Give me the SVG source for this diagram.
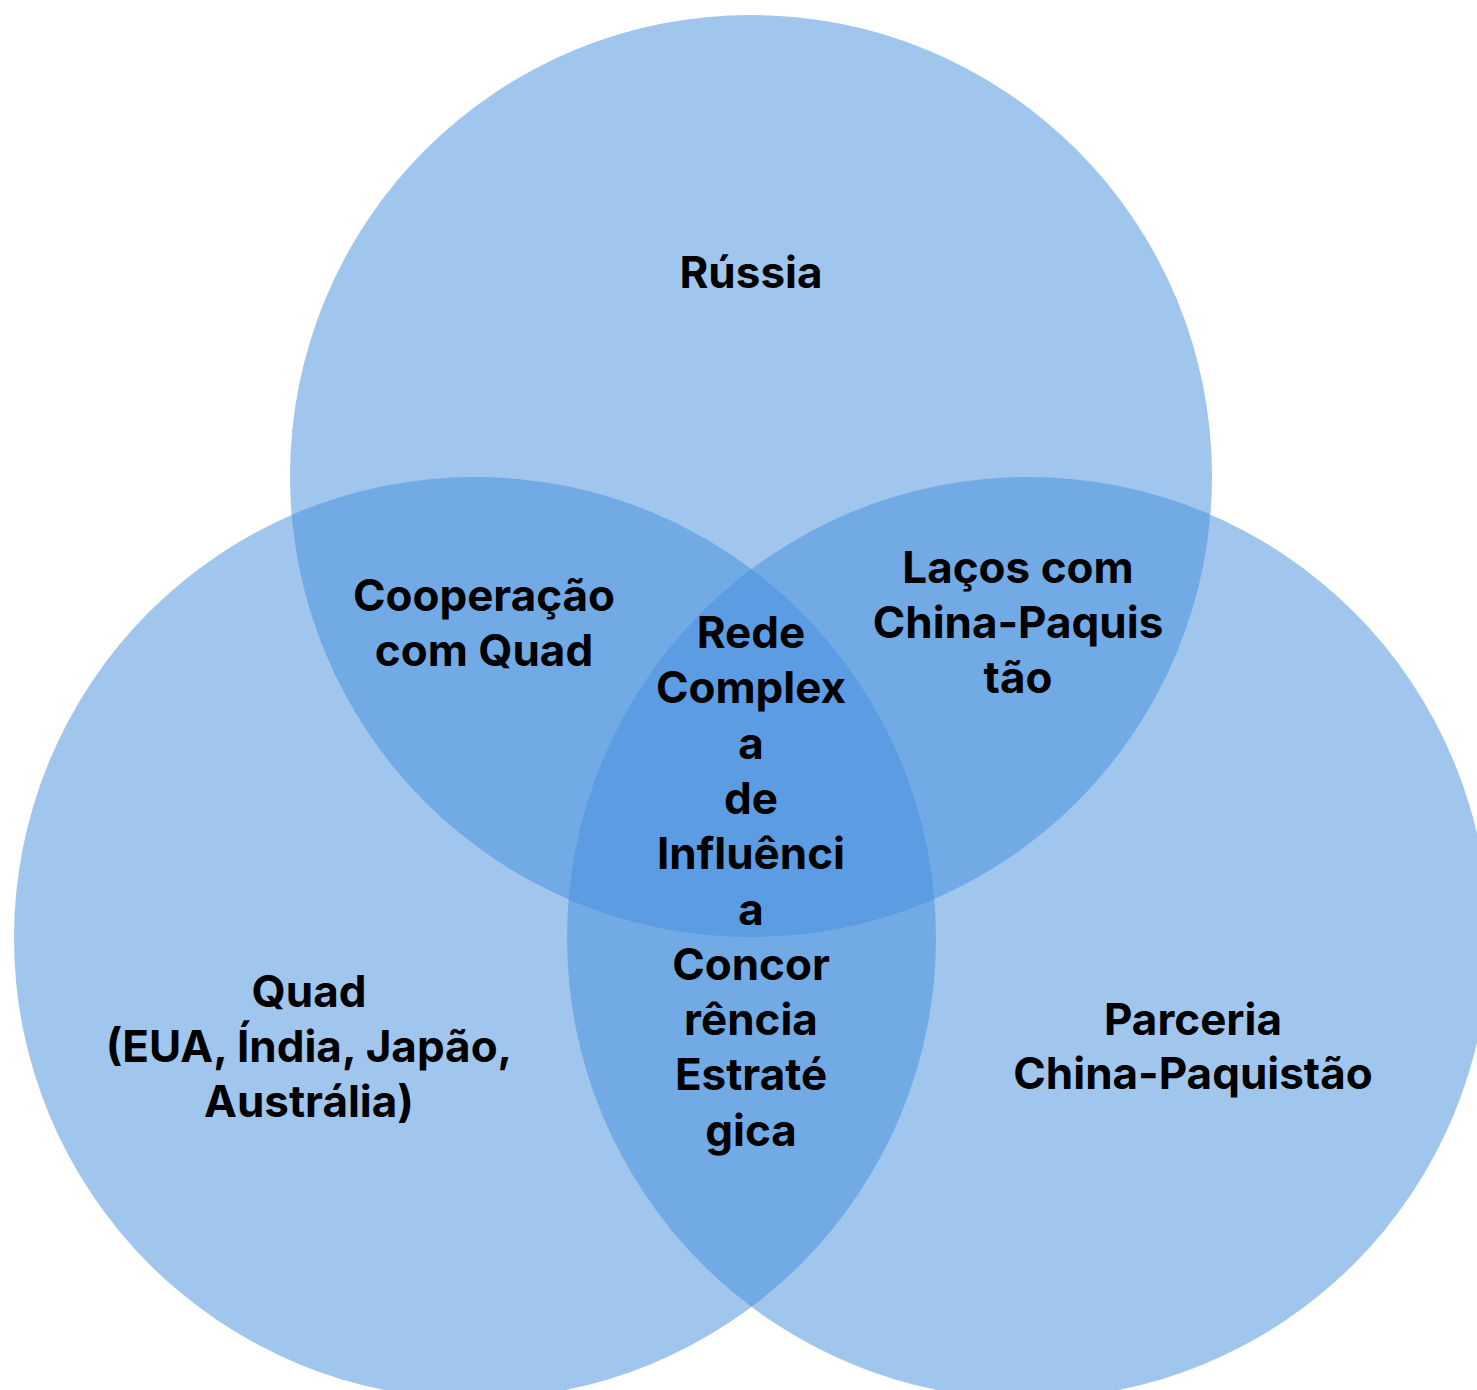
<svg xmlns="http://www.w3.org/2000/svg" width="1477" height="1390" viewBox="0 0 1477 1390">
<style>
.c{fill:#448EDE;fill-opacity:0.5}
.t{font-family:Inter,"Liberation Sans",sans-serif;font-weight:700;font-size:44px;fill:#000;text-anchor:middle}
</style>
<rect width="1477" height="1390" fill="#fff"/>
<g id="circle-russia"><circle class="c" cx="751" cy="476" r="461"/></g>
<g id="circle-quad"><circle class="c" cx="475" cy="938" r="461"/></g>
<g id="circle-china-paquistao"><circle class="c" cx="1028" cy="938" r="461"/></g>
<g id="connectors"></g>
<g id="label-russia"><text class="t" x="751" y="288">Rússia</text></g>
<g id="label-cooperacao"><text class="t" x="484" y="611">Cooperação</text><text class="t" x="484" y="666">com Quad</text></g>
<g id="label-lacos"><text class="t" x="1018" y="583">Laços com</text><text class="t" x="1018" y="638">China-Paquis</text><text class="t" x="1018" y="693">tão</text></g>
<g id="label-center">
<text class="t" x="751" y="648">Rede</text>
<text class="t" x="751" y="703">Complex</text>
<text class="t" x="751" y="759">a</text>
<text class="t" x="751" y="814">de</text>
<text class="t" x="751" y="869">Influênci</text>
<text class="t" x="751" y="925">a</text>
<text class="t" x="751" y="980">Concor</text>
<text class="t" x="751" y="1035">rência</text>
<text class="t" x="751" y="1090">Estraté</text>
<text class="t" x="751" y="1146">gica</text>
</g>
<g id="label-quad"><text class="t" x="309" y="1007">Quad</text><text class="t" x="309" y="1062">(EUA, Índia, Japão,</text><text class="t" x="309" y="1117">Austrália)</text></g>
<g id="label-parceria"><text class="t" x="1193" y="1035">Parceria</text><text class="t" x="1193" y="1089">China-Paquistão</text></g>
</svg>
